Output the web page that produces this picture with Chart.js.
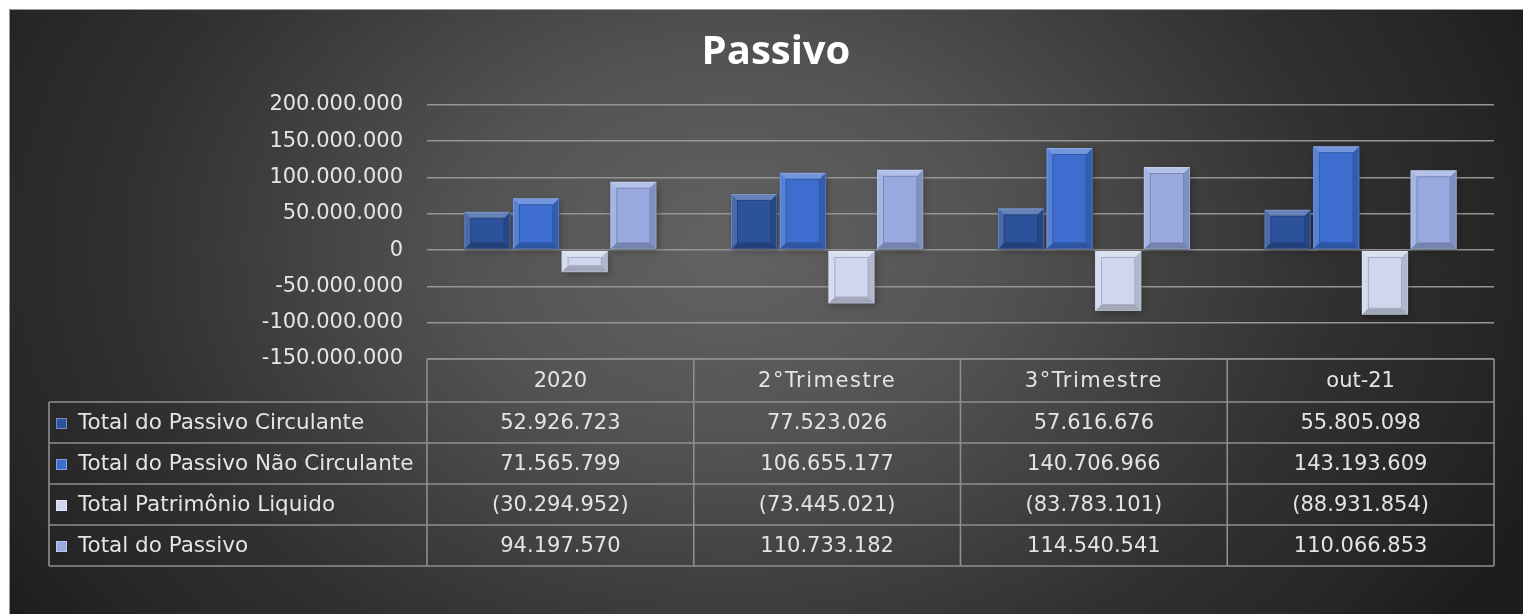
<!DOCTYPE html>
<html><head><meta charset="utf-8">
<script src="https://cdn.jsdelivr.net/npm/chart.js@4.4.0/dist/chart.umd.min.js"></script>
<style>html,body{margin:0;padding:0;background:#fff;overflow:hidden}canvas{display:block}</style>
</head><body>
<canvas id="c" width="1523" height="614"></canvas>
<script>
const chartTitle = 'Passivo';
const categories = ['2020', '2°Trimestre', '3°Trimestre', 'out-21'];
const seriesNames = ['Total do Passivo Circulante', 'Total do Passivo Não Circulante', 'Total Patrimônio Liquido', 'Total do Passivo'];
const passivoCirculante = [52926723, 77523026, 57616676, 55805098];
const passivoNaoCirculante = [71565799, 106655177, 140706966, 143193609];
const patrimonioLiquido = [-30294952, -73445021, -83783101, -88931854];
const totalPassivo = [94197570, 110733182, 114540541, 110066853];
const yMin = -150000000, yMax = 200000000, yStep = 50000000;
const seriesColors = ['#2D529C', '#3C6DCF', '#CFD6EE', '#97A9DF'];

const seriesValues = [passivoCirculante, passivoNaoCirculante, patrimonioLiquido, totalPassivo];

function groupDigits(n) {
  return Math.abs(Math.round(n)).toString().replace(/\B(?=(\d{3})+(?!\d))/g, '.');
}
function fmtTable(v) { return v < 0 ? '(' + groupDigits(v) + ')' : groupDigits(v); }
function fmtTick(v) { return v < 0 ? '-' + groupDigits(v) : groupDigits(v); }

const TXT = '#e4e4e4';
const FONT = '"DejaVu Sans", sans-serif';

const bgPlugin = {
  id: 'bg',
  beforeDraw(chart) {
    const ctx = chart.ctx, W = chart.width, H = chart.height;
    ctx.save();
    ctx.fillStyle = '#ffffff';
    ctx.fillRect(0, 0, W, H);
    const x0 = 9, y0 = 9;
    const cx = 730, cy = 250, rx = 760, ry = 560;
    ctx.beginPath(); ctx.rect(x0, y0, W - x0, H - y0); ctx.clip();
    ctx.translate(cx, cy);
    ctx.scale(1, ry / rx);
    const g = ctx.createRadialGradient(0, 0, 0, 0, 0, rx * 1.15);
    g.addColorStop(0, '#636363');
    g.addColorStop(0.3, '#535353');
    g.addColorStop(0.55, '#3d3d3d');
    g.addColorStop(0.7, '#303030');
    g.addColorStop(0.88, '#262626');
    g.addColorStop(1, '#1d1d1d');
    ctx.fillStyle = g;
    ctx.fillRect(-cx - 10, -cy * rx / ry - 10, W + 20, H * rx / ry + 20);
    ctx.restore();
    ctx.save();
    ctx.strokeStyle = '#9a9a9a';
    ctx.lineWidth = 1;
    ctx.beginPath();
    ctx.moveTo(x0 + 0.5, H); ctx.lineTo(x0 + 0.5, y0 + 0.5); ctx.lineTo(W, y0 + 0.5);
    ctx.stroke();
    ctx.restore();
  }
};

function barRect(el) {
  const p = el.getProps(['x', 'y', 'base', 'width'], true);
  const l = p.x - p.width / 2, r = p.x + p.width / 2;
  const t = Math.min(p.y, p.base), b = Math.max(p.y, p.base);
  return { l, r, t, b };
}

const bevelPlugin = {
  id: 'bevel',
  beforeDatasetsDraw(chart) {
    const ctx = chart.ctx;
    ctx.save();
    chart.data.datasets.forEach((ds, di) => {
      chart.getDatasetMeta(di).data.forEach(el => {
        const q = barRect(el);
        ctx.shadowColor = 'rgba(0,0,0,0.55)';
        ctx.shadowBlur = 7;
        ctx.shadowOffsetX = 2;
        ctx.shadowOffsetY = 3;
        ctx.fillStyle = 'rgba(0,0,0,0.5)';
        ctx.fillRect(q.l, q.t, q.r - q.l, q.b - q.t);
      });
    });
    ctx.restore();
  },
  afterDatasetsDraw(chart) {
    const ctx = chart.ctx;
    ctx.save();
    chart.data.datasets.forEach((ds, di) => {
      chart.getDatasetMeta(di).data.forEach(el => {
        const { l, r, t, b } = barRect(el);
        const h = b - t, w = r - l;
        const k = Math.max(1, Math.min(6, w / 6, h / 3));
        const poly = (pts, fill) => {
          ctx.beginPath();
          ctx.moveTo(pts[0][0], pts[0][1]);
          for (let i = 1; i < pts.length; i++) ctx.lineTo(pts[i][0], pts[i][1]);
          ctx.closePath();
          ctx.fillStyle = fill;
          ctx.fill();
        };
        poly([[l, t], [r, t], [r - k, t + k], [l + k, t + k]], 'rgba(255,255,255,0.28)');
        poly([[l, t], [l + k, t + k], [l + k, b - k], [l, b]], 'rgba(255,255,255,0.14)');
        poly([[r, t], [r, b], [r - k, b - k], [r - k, t + k]], 'rgba(0,0,0,0.14)');
        poly([[l, b], [r, b], [r - k, b - k], [l + k, b - k]], 'rgba(0,0,0,0.22)');
        ctx.lineWidth = 1;
        ctx.strokeStyle = 'rgba(0,0,0,0.2)';
        ctx.strokeRect(l + k + 0.5, t + k + 0.5, w - 2 * k - 1, h - 2 * k - 1);
        ctx.strokeStyle = 'rgba(255,255,255,0.18)';
        ctx.strokeRect(l + 0.5, t + 0.5, w - 1, h - 1);
      });
    });
    ctx.restore();
  }
};

const tablePlugin = {
  id: 'dataTable',
  afterDraw(chart) {
    const ctx = chart.ctx, ca = chart.chartArea, xs = chart.scales.x;
    const n = categories.length;
    const colW = (ca.right - ca.left) / n;
    const headTop = ca.bottom, headH = 43, rowH = 41;
    const tLeft = 49;
    const rowsTop = headTop + headH;
    const tBottom = rowsTop + rowH * seriesNames.length;
    ctx.save();
    ctx.strokeStyle = '#8e8e8e';
    ctx.lineWidth = 1.6;
    ctx.beginPath();
    ctx.moveTo(ca.left, headTop); ctx.lineTo(ca.right, headTop);
    for (let i = 0; i <= seriesNames.length; i++) {
      const y = rowsTop + i * rowH;
      ctx.moveTo(tLeft, y); ctx.lineTo(ca.right, y);
    }
    ctx.moveTo(tLeft, rowsTop); ctx.lineTo(tLeft, tBottom);
    for (let c = 0; c <= n; c++) {
      const x = ca.left + c * colW;
      ctx.moveTo(x, headTop); ctx.lineTo(x, tBottom);
    }
    ctx.stroke();

    ctx.fillStyle = TXT;
    ctx.textAlign = 'center';
    ctx.textBaseline = 'middle';
    ctx.font = '21px ' + FONT;
    categories.forEach((c, i) => {
      ctx.letterSpacing = c.length > 6 ? '1.5px' : '0px';
      ctx.fillText(c, xs.getPixelForValue(i), headTop + headH / 2 + 1);
    });
    ctx.letterSpacing = '0px';
    seriesNames.forEach((name, si) => {
      const yc = rowsTop + si * rowH + rowH / 2 + 1;
      const kx = 56, ky = Math.round(yc - 6), ks = 11;
      ctx.fillStyle = seriesColors[si];
      ctx.fillRect(kx, ky, ks, ks);
      ctx.strokeStyle = 'rgba(255,255,255,0.35)';
      ctx.lineWidth = 1;
      ctx.strokeRect(kx + 0.5, ky + 0.5, ks - 1, ks - 1);
      ctx.fillStyle = TXT;
      ctx.textAlign = 'left';
      ctx.font = '21.5px ' + FONT;
      ctx.fillText(name, 78, yc);
      ctx.textAlign = 'center';
      ctx.font = '21px ' + FONT;
      seriesValues[si].forEach((v, ci) => {
        ctx.fillText(fmtTable(v), xs.getPixelForValue(ci), yc);
      });
    });
    ctx.restore();
  }
};

new Chart(document.getElementById('c'), {
  type: 'bar',
  data: {
    labels: categories,
    datasets: seriesNames.map((name, i) => ({
      label: name,
      data: seriesValues[i],
      backgroundColor: seriesColors[i],
      borderWidth: 0,
      categoryPercentage: 0.73,
      barPercentage: 0.95
    }))
  },
  options: {
    responsive: false,
    devicePixelRatio: 1,
    animation: false,
    layout: { padding: { left: 58, right: 29, top: 0, bottom: 255 } },
    plugins: {
      legend: { display: false },
      tooltip: { enabled: false },
      title: {
        display: true,
        text: chartTitle,
        color: '#ffffff',
        font: { family: '"Open Sans", sans-serif', size: 40, weight: 'bold', lineHeight: 1.2 },
        padding: { top: 29, bottom: 28 }
      }
    },
    scales: {
      x: { display: false },
      y: {
        min: yMin, max: yMax,
        ticks: {
          stepSize: yStep,
          color: TXT,
          font: { family: FONT, size: 21 },
          padding: 24,
          callback: v => fmtTick(v)
        },
        grid: { color: '#959595', lineWidth: 1.6, drawTicks: false },
        border: { display: false },
        afterFit(scale) { scale.width = 427 - 58; }
      }
    }
  },
  plugins: [bgPlugin, bevelPlugin, tablePlugin]
});
</script>
</body></html>
